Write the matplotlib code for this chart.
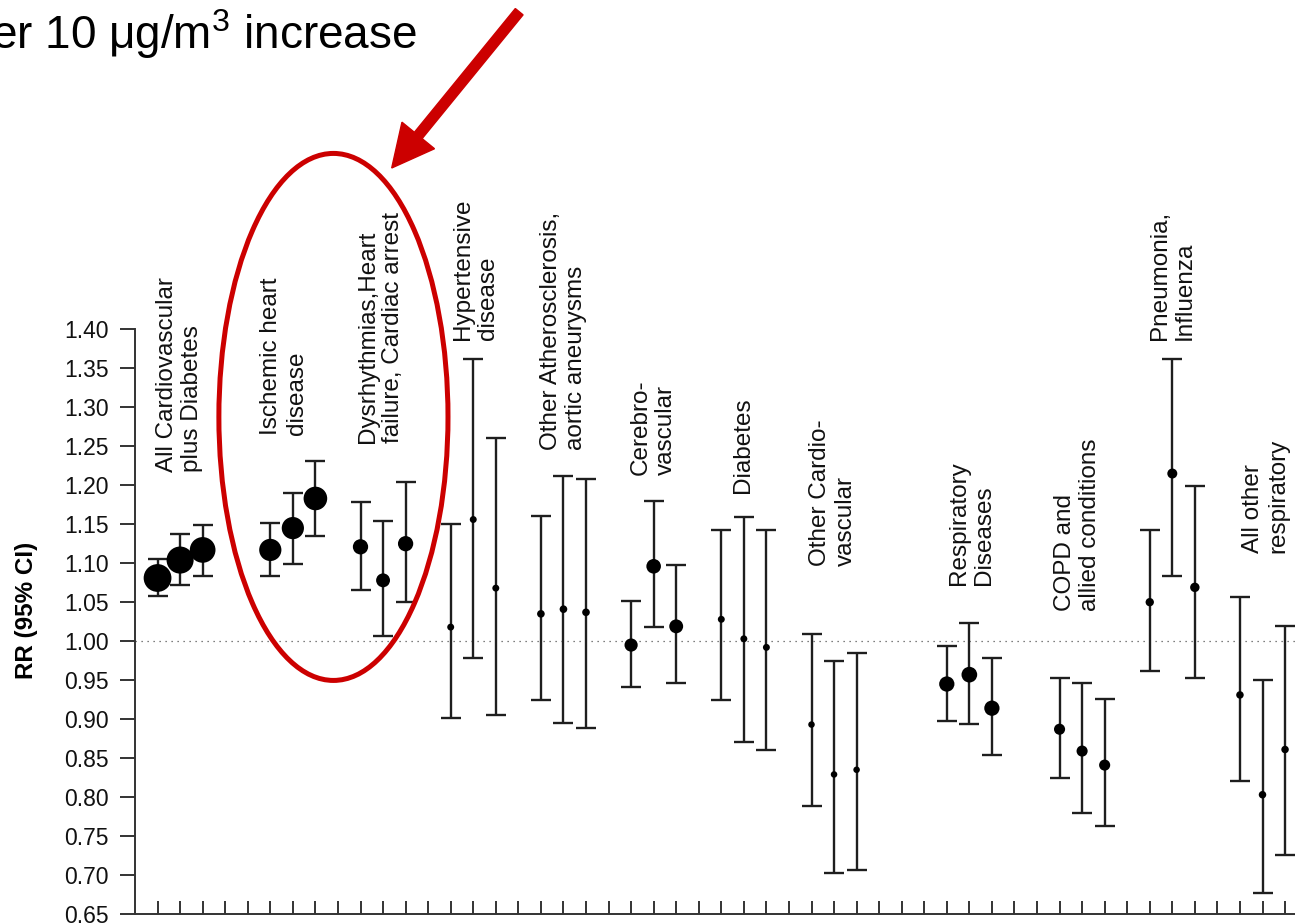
import numpy as np
import matplotlib
matplotlib.use("Agg")
import matplotlib.pyplot as plt
from matplotlib.patches import Ellipse, FancyArrow

plt.rcParams["font.family"] = ["Liberation Sans", "DejaVu Sans"]
plt.rcParams["mathtext.fontset"] = "custom"
plt.rcParams["mathtext.rm"] = "Liberation Sans"

# cause-specific outcome groups (three estimates each)
categories = [
    "All Cardiovascular\nplus Diabetes",
    "Ischemic heart\ndisease",
    "Dysrhythmias,Heart\nfailure, Cardiac arrest",
    "Hypertensive\ndisease",
    "Other Atherosclerosis,\naortic aneurysms",
    "Cerebro-\nvascular",
    "Diabetes",
    "Other Cardio-\nvascular",
    "Respiratory\nDiseases",
    "COPD and\nallied conditions",
    "Pneumonia,\nInfluenza",
    "All other\nrespiratory",
]

# slot of each estimate along the x axis
slots = [
    [1, 2, 3], [6, 7, 8], [10, 11, 12], [14, 15, 16],
    [18, 19, 20], [22, 23, 24], [26, 27, 28], [30, 31, 32],
    [36, 37, 38], [41, 42, 43], [45, 46, 47], [49, 50, 51],
]

rr = [
    [1.081, 1.104, 1.117], [1.117, 1.145, 1.183], [1.121, 1.078, 1.125],
    [1.018, 1.156, 1.068], [1.035, 1.041, 1.037], [0.995, 1.096, 1.019],
    [1.028, 1.003, 0.992], [0.893, 0.829, 0.835], [0.945, 0.957, 0.914],
    [0.887, 0.859, 0.841], [1.050, 1.215, 1.069], [0.931, 0.803, 0.861],
]
ci_low = [
    [1.058, 1.072, 1.084], [1.083, 1.099, 1.135], [1.066, 1.006, 1.050],
    [0.901, 0.979, 0.905], [0.924, 0.895, 0.889], [0.941, 1.018, 0.946],
    [0.925, 0.870, 0.860], [0.789, 0.703, 0.706], [0.897, 0.894, 0.854],
    [0.825, 0.780, 0.763], [0.962, 1.083, 0.953], [0.821, 0.677, 0.726],
]
ci_high = [
    [1.105, 1.137, 1.149], [1.151, 1.190, 1.231], [1.179, 1.154, 1.204],
    [1.150, 1.362, 1.261], [1.160, 1.212, 1.208], [1.052, 1.180, 1.098],
    [1.143, 1.159, 1.143], [1.009, 0.975, 0.985], [0.994, 1.023, 0.978],
    [0.953, 0.946, 0.926], [1.142, 1.362, 1.199], [1.057, 0.950, 1.020],
]

# dot diameter (points) for each estimate
dot_ms = [
    [20, 19.5, 18.5], [16, 16, 17], [11, 10, 11], [5, 5, 5],
    [5.5, 5.5, 5.5], [9.5, 10.5, 10], [5, 5, 5], [4.7, 4.7, 4.7],
    [11, 11.3, 11], [8, 8, 8], [6, 7.2, 6.8], [5.4, 5.4, 5.4],
]

# where each group name starts (x centre, bottom of text)
label_x = [1.97, 6.6, 10.9, 15.1, 19.0, 23.0, 26.95, 30.95, 37.1, 41.8, 46.0, 50.15]
label_y = [1.217, 1.264, 1.254, 1.386, 1.245, 1.213, 1.190, 1.097, 1.0715, 1.039, 1.386, 1.1126]

fig = plt.figure(figsize=(12.95, 9.24), dpi=100)
ax = fig.add_axes([135 / 1295, 10 / 924, 52 * 22.55 / 1295, 584.7 / 924])

ax.axhline(1.0, color="#555555", lw=0.9, ls=(0, (1, 3.8)), zorder=1)

for xs, est, lo, hi, ms in zip(slots, rr, ci_low, ci_high, dot_ms):
    est = np.array(est)
    err = [est - np.array(lo), np.array(hi) - est]
    ax.errorbar(xs, est, yerr=err, fmt="none", ecolor="#1e1e1e",
                elinewidth=1.7, capsize=7.2, capthick=1.7, zorder=2)
    ax.scatter(xs, est, s=np.array(ms) ** 2, color="black",
               linewidths=0, zorder=3)

for name, lx, ly in zip(categories, label_x, label_y):
    ax.text(lx, ly, name, rotation=90, ha="center", va="bottom",
            multialignment="left", fontsize=17.5, color="#111111")

ax.set_xlim(0, 52)
ax.set_ylim(0.65, 1.40)
ax.set_yticks(np.arange(0.65, 1.401, 0.05))
ax.set_yticklabels(["%.2f" % v for v in np.arange(0.65, 1.401, 0.05)])
ax.set_xticks(range(1, 53))
ax.tick_params(axis="y", direction="out", length=10.8, width=1.4,
               pad=8, labelsize=16.5, color="#333333", labelcolor="#111111")
ax.tick_params(axis="x", direction="in", length=9.4, width=1.4,
               labelbottom=False, color="#333333")
for side in ["top", "right"]:
    ax.spines[side].set_visible(False)
for side in ["left", "bottom"]:
    ax.spines[side].set_color("#333333")
    ax.spines[side].set_linewidth(1.4)

fig.text(26 / 1295, 1 - 610 / 924, "RR (95% CI)", rotation=90,
         ha="center", va="center", fontsize=17.5, fontweight="bold")

# red highlight around the ischemic / dysrhythmia groups
ax.add_patch(Ellipse((8.80, 1.2876), width=10.16, height=0.676, fill=False,
                     ec="#cc0000", lw=3.6, clip_on=False, zorder=4))
fig.add_artist(FancyArrow(5.192, 9.123, -1.275, -1.563, width=0.10,
                          head_width=0.42, head_length=0.42,
                          length_includes_head=True, color="#cc0000",
                          transform=fig.dpi_scale_trans))

fig.text(417 / 1295, 1 - 49 / 924, "er 10 μg/m$^3$ increase",
         ha="right", va="baseline", fontsize=33, color="black")

fig.savefig("out.png", dpi=100)
